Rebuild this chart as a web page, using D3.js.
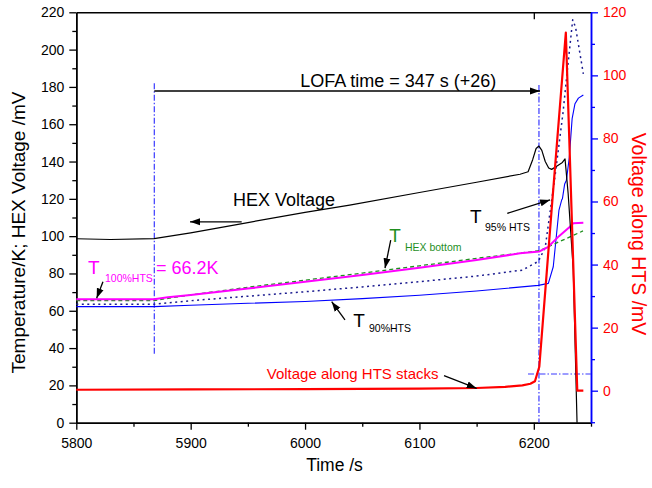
<!DOCTYPE html>
<html>
<head>
<meta charset="utf-8">
<script src="https://cdn.jsdelivr.net/npm/d3@7"></script>
<style>
  body { margin: 0; background: #fff; }
  svg { display: block; }
  text { font-family: "Liberation Sans", Arial, sans-serif; }
</style>
</head>
<body>
<svg id="chart" width="652" height="488"></svg>
<script>
// ---- tick values ----
const timeTicks = [5800, 5900, 6000, 6100, 6200];
const timeMinorTicks = [5850, 5950, 6050, 6150, 6250];
const topTicks = [6200];
const leftTicks = [0, 20, 40, 60, 80, 100, 120, 140, 160, 180, 200, 220];
const leftMinorTicks = [10, 30, 50, 70, 90, 110, 130, 150, 170, 190, 210];
const rightTicks = [0, 20, 40, 60, 80, 100, 120];
const rightMinorTicks = [-10, 10, 30, 50, 70, 90, 110];

// ---- HEX voltage (left axis, mV) ----
const hexTime = [5800, 5830, 5868, 5900, 5950, 6000, 6039, 6100, 6150, 6188, 6195, 6199, 6202, 6204.5, 6207, 6210, 6213, 6215.6, 6220, 6225, 6227.3, 6230, 6234.5, 6237.8];
const hexVoltage = [98.6, 98.2, 98.7, 101.8, 107.3, 112.7, 116.6, 123.4, 128.9, 133.2, 134.5, 141, 147, 148.3, 146, 140, 136.5, 135.8, 137.5, 139.5, 141.4, 123, 82, 0];

// ---- T 100% HTS (left axis, K) ----
const t100Time = [5800, 5868, 5880, 5900, 5950, 6000, 6050, 6100, 6150, 6188, 6205, 6212.7, 6222, 6231.6, 6234.5, 6243.3];
const t100Temp = [66.2, 66.2, 67.3, 68.4, 71.9, 75.5, 79.2, 83.0, 87.2, 90.8, 91.8, 94.3, 100, 105.1, 106.9, 107.2];

// ---- T HEX bottom (left axis, K) ----
const tHexTime = [5800, 5868, 5900, 5950, 6000, 6050, 6100, 6150, 6205, 6243];
const tHexTemp = [65.5, 65.5, 68.5, 72.6, 76.4, 80.2, 84.1, 88.1, 92.2, 102.8];

// ---- T 95% HTS (left axis, K) ----
const t95Time = [5800, 5868, 5900, 5950, 6000, 6050, 6100, 6150, 6190, 6204, 6210, 6214, 6218.5, 6225.5, 6229.5, 6234, 6236.5, 6243.3];
const t95Temp = [63.5, 63.5, 65.4, 67.8, 70.2, 72.8, 75.6, 78.6, 81.8, 86.5, 94, 112, 132, 166, 190, 216, 212, 187];

// ---- T 90% HTS (left axis, K) ----
const t90Time = [5800, 5868, 5900, 5950, 6000, 6050, 6100, 6150, 6204, 6212.7, 6217, 6222, 6224.4, 6225, 6227, 6228.5, 6231, 6233.5, 6236, 6239, 6243.3];
const t90Temp = [62.2, 62.2, 63.0, 64.0, 65.0, 66.5, 68.3, 70.6, 73.6, 74.7, 83.6, 114, 119.5, 120, 128, 130, 142, 163, 171, 174, 175.7];

// ---- Voltage along HTS stacks (right axis, mV) ----
const htsTime = [5800, 5900, 6000, 6100, 6150, 6175, 6190, 6197, 6201, 6204.8, 6211.3, 6215.6, 6228, 6231, 6238, 6243.3];
const htsVoltage = [0.3, 0.4, 0.5, 0.65, 0.85, 1.2, 1.7, 2.2, 3.0, 7.6, 37.5, 57.5, 113.6, 80, 0, 0];

// ---- LOFA event times ----
const lofaStart = 5868.2;
const lofaEnd = 6204.5;

const svg = d3.select("#chart");
const x = d3.scaleLinear([5800, 6250], [76.3, 591]);
const yL = d3.scaleLinear([0, 220], [422.7, 12.3]);
const yR = d3.scaleLinear([-10.15, 120], [422.7, 12.3]);

// ---- arrowhead marker ----
const defs = svg.append("defs");
defs.append("marker")
  .attr("id", "arrow")
  .attr("markerUnits", "userSpaceOnUse")
  .attr("markerWidth", 11).attr("markerHeight", 8)
  .attr("refX", 10).attr("refY", 4)
  .attr("orient", "auto")
  .append("path").attr("d", "M0,0.5 L10,4 L0,7.5 Z").attr("fill", "#000");

// ---- axes ----
function styleAxis(g, lineColor, textColor, fontSize) {
  g.selectAll("path.domain").attr("stroke", lineColor).attr("stroke-width", 1.5);
  g.selectAll(".tick line").attr("stroke", lineColor).attr("stroke-width", 1.3);
  g.selectAll(".tick text").attr("fill", textColor).style("font-size", fontSize + "px")
    .style("font-family", '"Liberation Sans", Arial, sans-serif');
}

// bottom
const gx = svg.append("g").attr("transform", `translate(0,${yL(0)})`)
  .call(d3.axisBottom(x).tickValues(timeTicks).tickSize(7).tickSizeOuter(0).tickPadding(8).tickFormat(d3.format("d")));
styleAxis(gx, "#000", "#000", 14);
const gxm = svg.append("g").attr("transform", `translate(0,${yL(0)})`)
  .call(d3.axisBottom(x).tickValues(timeMinorTicks).tickSize(4).tickSizeOuter(0).tickFormat(""));
styleAxis(gxm, "#000", "#000", 14);

// top frame
const gt = svg.append("g").attr("transform", `translate(0,${yL(220)})`)
  .call(d3.axisTop(x).tickValues(topTicks).tickSize(-7).tickSizeOuter(0).tickFormat(""));
styleAxis(gt, "#000", "#000", 14);

// left
const gy = svg.append("g").attr("transform", `translate(${x(5800)},0)`)
  .call(d3.axisLeft(yL).tickValues(leftTicks).tickSize(7).tickSizeOuter(0).tickPadding(5));
styleAxis(gy, "#000", "#000", 14);
const gym = svg.append("g").attr("transform", `translate(${x(5800)},0)`)
  .call(d3.axisLeft(yL).tickValues(leftMinorTicks).tickSize(4).tickSizeOuter(0).tickFormat(""));
styleAxis(gym, "#000", "#000", 14);

// right
const gr = svg.append("g").attr("transform", `translate(${x(6250)},0)`)
  .call(d3.axisRight(yR).tickValues(rightTicks).tickSize(7).tickSizeOuter(0).tickPadding(5));
styleAxis(gr, "#0000ff", "#ff0000", 14);
const grm = svg.append("g").attr("transform", `translate(${x(6250)},0)`)
  .call(d3.axisRight(yR).tickValues(rightMinorTicks).tickSize(4).tickSizeOuter(0).tickFormat(""));
styleAxis(grm, "#0000ff", "#ff0000", 14);

// axis titles
svg.append("text")
  .attr("transform", `translate(25,${(yL(0) + yL(220)) / 2 + 15}) rotate(-90)`)
  .attr("text-anchor", "middle").style("font-size", "19px").attr("fill", "#000")
  .text("Temperature/K; HEX Voltage /mV");
svg.append("text")
  .attr("transform", `translate(632,234) rotate(90)`)
  .attr("text-anchor", "middle").style("font-size", "19.5px").attr("fill", "#ff0000")
  .text("Voltage along HTS /mV");
svg.append("text")
  .attr("x", 334.5).attr("y", 471)
  .attr("text-anchor", "middle").style("font-size", "17.5px").attr("fill", "#000")
  .text("Time /s");

// ---- LOFA markers (dash-dot) ----
const dashDot = "6,2,1.5,2";
const markers = svg.append("g").attr("stroke", "#3a3aff").attr("stroke-width", 1.2)
  .attr("stroke-dasharray", dashDot).attr("fill", "none");
markers.append("line").attr("x1", x(lofaStart)).attr("x2", x(lofaStart)).attr("y1", yL(182)).attr("y2", yL(36.3));
markers.append("line").attr("x1", x(lofaEnd)).attr("x2", x(lofaEnd)).attr("y1", yL(181)).attr("y2", yL(0));
markers.append("line").attr("x1", x(6194.9)).attr("x2", x(6250)).attr("y1", yR(5.3)).attr("y2", yR(5.3));

// ---- series ----
function draw(ts, vs, yScale, color, width, dash) {
  const pts = ts.map((t, i) => [t, vs[i]]);
  const line = d3.line().x(d => x(d[0])).y(d => yScale(d[1]));
  const p = svg.append("path").datum(pts)
    .attr("d", line).attr("fill", "none")
    .attr("stroke", color).attr("stroke-width", width)
    .attr("stroke-linejoin", "round");
  if (dash) p.attr("stroke-dasharray", dash);
}
draw(t90Time, t90Temp, yL, "#0000ff", 1.1);
draw(t95Time, t95Temp, yL, "#1b1b8f", 1.5, "2,3.5");
draw(tHexTime, tHexTemp, yL, "#1f8f1f", 1.3, "4,3");
draw(t100Time, t100Temp, yL, "#ff00ff", 2);
draw(hexTime, hexVoltage, yL, "#000000", 1.2);
draw(htsTime, htsVoltage, yR, "#ff0000", 2.2);

// ---- annotations ----
function arrow(t1, v1, t2, v2) {
  svg.append("line")
    .attr("x1", x(t1)).attr("y1", yL(v1)).attr("x2", x(t2)).attr("y2", yL(v2))
    .attr("stroke", "#000").attr("stroke-width", 1.3).attr("marker-end", "url(#arrow)");
}
function label(t, v, str, size, color, anchor) {
  svg.append("text").attr("x", x(t)).attr("y", yL(v))
    .attr("text-anchor", anchor || "start")
    .style("font-size", size + "px").attr("fill", color).text(str);
}

// LOFA duration
arrow(lofaStart, 177.8, 6205.4, 177.8);
label(6081.5, 180.2, "LOFA time = 347 s (+26)", 18, "#000", "middle");

// HEX voltage
label(5937, 116.3, "HEX Voltage", 18, "#000");
arrow(5944.6, 107.7, 5899.4, 107.7);

// T 100% HTS
label(5810.2, 79.5, "T", 19, "#ff00ff");
label(5825.1, 75.5, "100%HTS", 10.5, "#ff00ff");
label(5869.7, 79.5, "= 66.2K", 18, "#ff00ff");
arrow(5823.3, 75.6, 5817.8, 66.7);

// T HEX bottom
label(6073.6, 97.0, "T", 19, "#1f8f1f");
label(6087.3, 92.0, "HEX bottom", 10.5, "#1f8f1f");
arrow(6074.9, 97.9, 6069.9, 82.8);

// T 95% HTS
label(6144.2, 106.9, "T", 19, "#000");
label(6157.3, 103.0, "95% HTS", 10.5, "#000");
arrow(6176.8, 112.2, 6214.2, 119.4);

// T 90% HTS
label(6042.2, 51.5, "T", 19, "#000");
label(6055.9, 48.6, "90%HTS", 10.5, "#000");
arrow(6034.9, 55.1, 6023.3, 64.9);

// Voltage along HTS stacks
label(5966.5, 23.4, "Voltage along HTS stacks", 15, "#ff0000");
arrow(6121.5, 25.2, 6150.1, 18.4);
</script>
</body>
</html>
